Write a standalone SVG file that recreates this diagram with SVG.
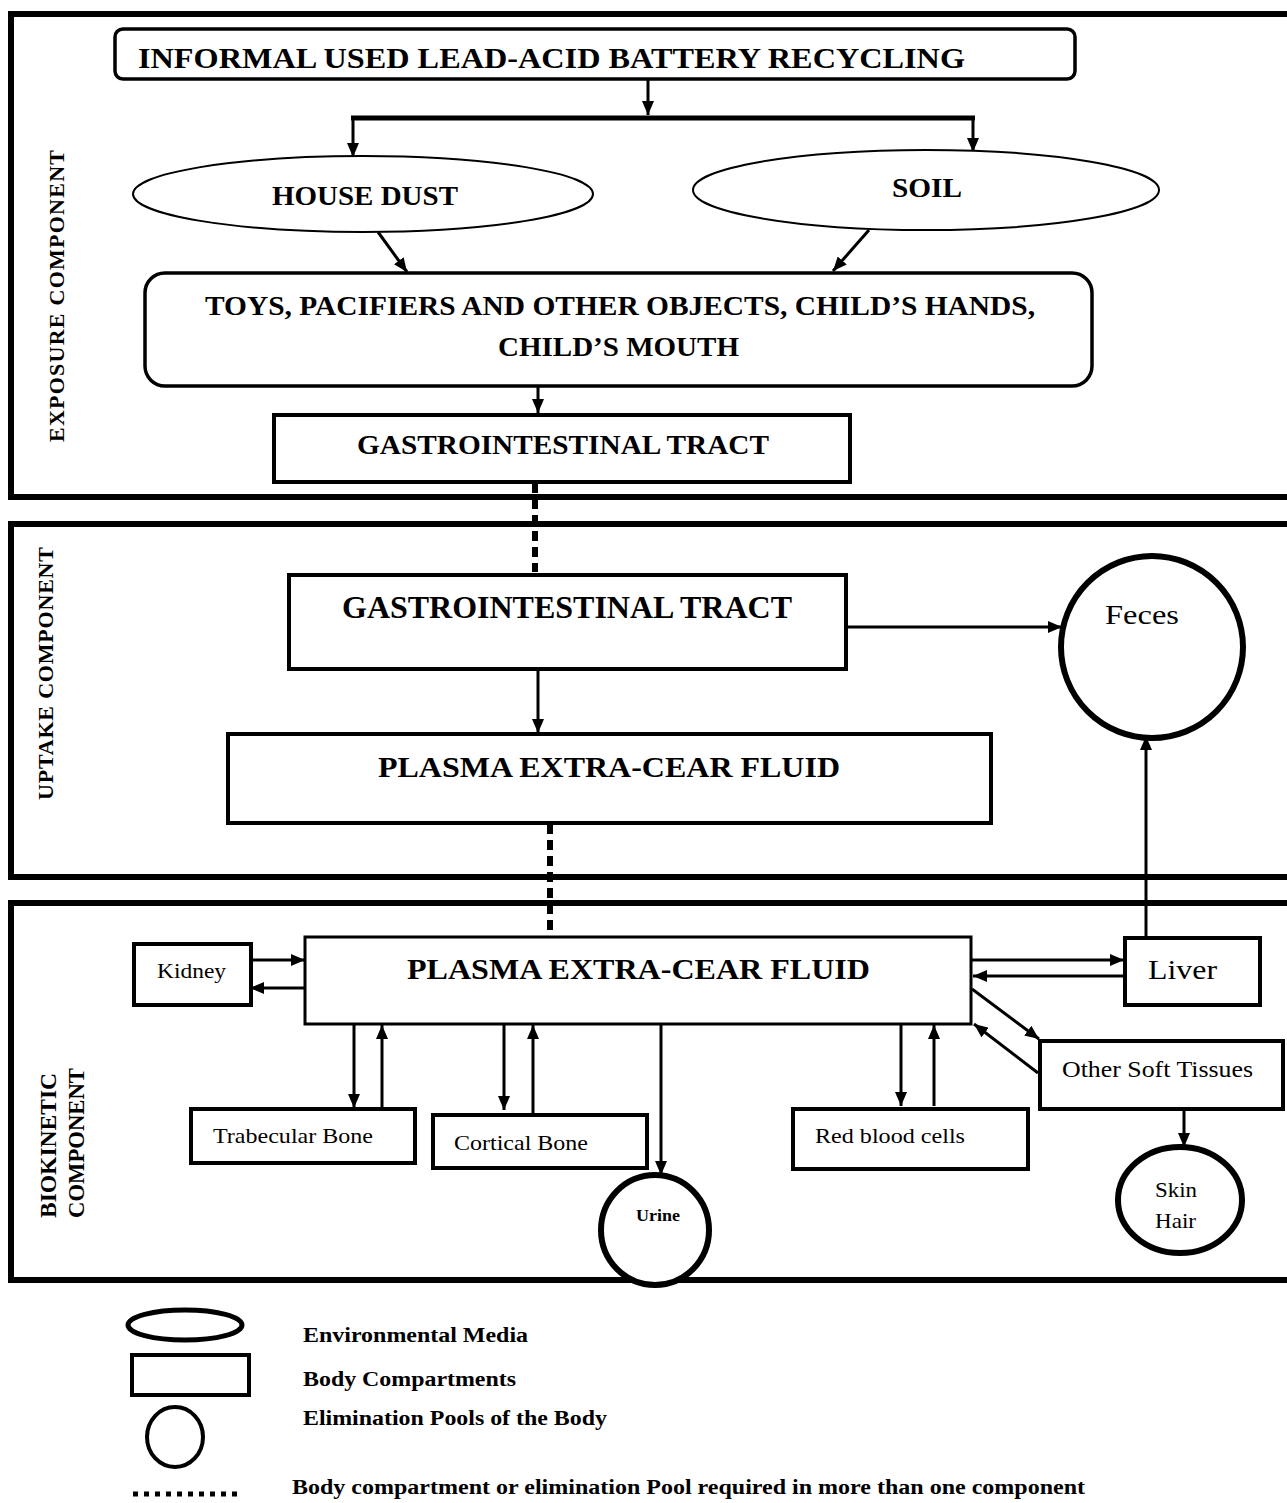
<svg xmlns="http://www.w3.org/2000/svg" width="1287" height="1503" viewBox="0 0 1287 1503">
<style>
.sec{fill:none;stroke:#000;stroke-width:6}
.box{fill:#fff;stroke:#000;stroke-width:4}
.ell{fill:#fff;stroke:#000;stroke-width:2}
.pool{fill:#fff;stroke:#000;stroke-width:6}
.b{font-family:"Liberation Serif","Times New Roman",serif;font-weight:bold;fill:#000}
.n{font-family:"Liberation Serif","Times New Roman",serif;fill:#000}
.con{fill:none;stroke:#000;stroke-width:3}
.dot{fill:none;stroke:#000;stroke-width:6;stroke-dasharray:10 6}
</style>
<defs>
<marker id="ah" viewBox="0 0 14 12" refX="14" refY="6" markerWidth="14" markerHeight="12" markerUnits="userSpaceOnUse" orient="auto">
<path d="M0,0 L14,6 L0,12 z" fill="#000"/>
</marker>
</defs>
<rect width="1287" height="1503" fill="#fff"/>

<!-- sections -->
<g id="sections">
<rect class="sec" x="11" y="14" width="1290" height="483"/>
<rect class="sec" x="11" y="524" width="1290" height="353"/>
<rect class="sec" x="11" y="903" width="1290" height="377"/>
<text class="b" font-size="22" transform="translate(64,442) rotate(-90)" textLength="292" lengthAdjust="spacing">EXPOSURE COMPONENT</text>
<text class="b" font-size="22" transform="translate(53,800) rotate(-90)" textLength="253" lengthAdjust="spacing">UPTAKE COMPONENT</text>
<text class="b" font-size="23" transform="translate(56,1218) rotate(-90)" textLength="145" lengthAdjust="spacingAndGlyphs">BIOKINETIC</text>
<text class="b" font-size="23" transform="translate(84,1218) rotate(-90)" textLength="150" lengthAdjust="spacingAndGlyphs">COMPONENT</text>
</g>

<!-- connectors -->
<g id="connectors">
<line class="con" x1="648" y1="80" x2="648" y2="115" marker-end="url(#ah)"/>
<line x1="351" y1="118" x2="975" y2="118" stroke="#000" stroke-width="5"/>
<line class="con" x1="353" y1="118" x2="353" y2="157" marker-end="url(#ah)"/>
<line class="con" x1="973" y1="118" x2="973" y2="152" marker-end="url(#ah)"/>
<line class="con" x1="378" y1="232" x2="407" y2="272" marker-end="url(#ah)" stroke-width="4"/>
<line class="con" x1="869" y1="230" x2="833" y2="271" marker-end="url(#ah)" stroke-width="4"/>
<line class="con" x1="538" y1="387" x2="538" y2="413" marker-end="url(#ah)"/>
<line class="dot" x1="535" y1="483" x2="535" y2="572"/>
<line class="con" x1="848" y1="627" x2="1062" y2="627" marker-end="url(#ah)" stroke-width="4"/>
<line class="con" x1="538" y1="670" x2="538" y2="733" marker-end="url(#ah)"/>
<line class="dot" x1="550" y1="824" x2="550" y2="937"/>
<line class="con" x1="1146" y1="936" x2="1146" y2="736" marker-end="url(#ah)"/>
<line class="con" x1="246" y1="960" x2="305" y2="960" marker-end="url(#ah)" stroke-width="4"/>
<line class="con" x1="305" y1="988" x2="250" y2="988" marker-end="url(#ah)" stroke-width="4"/>
<line class="con" x1="971" y1="960" x2="1124" y2="960" marker-end="url(#ah)" stroke-width="4"/>
<line class="con" x1="1124" y1="976" x2="973" y2="976" marker-end="url(#ah)" stroke-width="4"/>
<line class="con" x1="972" y1="989" x2="1039" y2="1039" marker-end="url(#ah)" stroke-width="4"/>
<line class="con" x1="1038" y1="1073" x2="974" y2="1024" marker-end="url(#ah)" stroke-width="4"/>
<line class="con" x1="354" y1="1025" x2="354" y2="1108" marker-end="url(#ah)"/>
<line class="con" x1="382" y1="1108" x2="382" y2="1025" marker-end="url(#ah)"/>
<line class="con" x1="504" y1="1025" x2="504" y2="1110" marker-end="url(#ah)"/>
<line class="con" x1="533" y1="1113" x2="533" y2="1025" marker-end="url(#ah)"/>
<line class="con" x1="661" y1="1025" x2="661" y2="1175" marker-end="url(#ah)"/>
<line class="con" x1="901" y1="1025" x2="901" y2="1106" marker-end="url(#ah)"/>
<line class="con" x1="934" y1="1106" x2="934" y2="1025" marker-end="url(#ah)"/>
<line class="con" x1="1184" y1="1111" x2="1184" y2="1147" marker-end="url(#ah)"/>
</g>

<!-- exposure nodes -->
<g id="n-recycling">
<rect x="115" y="29" width="960" height="50" rx="8" fill="#fff" stroke="#000" stroke-width="3.5"/>
<text class="b" x="138" y="68" font-size="30" textLength="827" lengthAdjust="spacingAndGlyphs">INFORMAL USED LEAD-ACID BATTERY RECYCLING</text>
</g>
<g id="n-housedust">
<ellipse class="ell" cx="363" cy="194" rx="230" ry="38"/>
<text class="b" x="272" y="205" font-size="27" textLength="186" lengthAdjust="spacingAndGlyphs">HOUSE DUST</text>
</g>
<g id="n-soil">
<ellipse class="ell" cx="926" cy="190" rx="233" ry="40"/>
<text class="b" x="892" y="197" font-size="27" textLength="70" lengthAdjust="spacingAndGlyphs">SOIL</text>
</g>
<g id="n-toys">
<rect x="145" y="273" width="947" height="113" rx="20" fill="#fff" stroke="#000" stroke-width="3.5"/>
<text class="b" x="205" y="315" font-size="28" textLength="830" lengthAdjust="spacingAndGlyphs">TOYS, PACIFIERS AND OTHER OBJECTS, CHILD’S HANDS,</text>
<text class="b" x="498" y="356" font-size="28" textLength="241" lengthAdjust="spacingAndGlyphs">CHILD’S MOUTH</text>
</g>
<g id="n-gi-exposure">
<rect class="box" x="274" y="415" width="576" height="67"/>
<text class="b" x="357" y="454" font-size="28" textLength="412" lengthAdjust="spacingAndGlyphs">GASTROINTESTINAL TRACT</text>
</g>

<!-- uptake nodes -->
<g id="n-gi-uptake">
<rect class="box" x="289" y="575" width="557" height="94"/>
<text class="b" x="342" y="618" font-size="31" textLength="450" lengthAdjust="spacingAndGlyphs">GASTROINTESTINAL TRACT</text>
</g>
<g id="n-feces">
<ellipse cx="1152" cy="647" rx="91" ry="91" fill="#fff" stroke="#000" stroke-width="6"/>
<text class="n" x="1105" y="624" font-size="27" textLength="74" lengthAdjust="spacingAndGlyphs">Feces</text>
</g>
<g id="n-plasma-uptake">
<rect class="box" x="228" y="734" width="763" height="89"/>
<text class="b" x="378" y="777" font-size="29" textLength="462" lengthAdjust="spacingAndGlyphs">PLASMA EXTRA-CEAR FLUID</text>
</g>

<!-- biokinetic nodes -->
<g id="n-plasma-bio">
<rect x="305" y="937" width="666" height="87" fill="#fff" stroke="#000" stroke-width="3"/>
<text class="b" x="407" y="979" font-size="29" textLength="463" lengthAdjust="spacingAndGlyphs">PLASMA EXTRA-CEAR FLUID</text>
</g>
<g id="n-kidney">
<rect class="box" x="134" y="944" width="117" height="61"/>
<text class="n" x="157" y="978" font-size="22" textLength="69" lengthAdjust="spacingAndGlyphs">Kidney</text>
</g>
<g id="n-liver">
<rect class="box" x="1125" y="938" width="135" height="67"/>
<text class="n" x="1148" y="979" font-size="28" textLength="69" lengthAdjust="spacingAndGlyphs">Liver</text>
</g>
<g id="n-ost">
<rect class="box" x="1040" y="1041" width="243" height="68"/>
<text class="n" x="1062" y="1077" font-size="23" textLength="191" lengthAdjust="spacingAndGlyphs">Other Soft Tissues</text>
</g>
<g id="n-trabecular">
<rect class="box" x="191" y="1109" width="224" height="54"/>
<text class="n" x="213" y="1143" font-size="22" textLength="160" lengthAdjust="spacingAndGlyphs">Trabecular Bone</text>
</g>
<g id="n-cortical">
<rect class="box" x="433" y="1115" width="214" height="53"/>
<text class="n" x="454" y="1150" font-size="22" textLength="134" lengthAdjust="spacingAndGlyphs">Cortical Bone</text>
</g>
<g id="n-rbc">
<rect class="box" x="793" y="1109" width="235" height="60"/>
<text class="n" x="815" y="1143" font-size="22" textLength="150" lengthAdjust="spacingAndGlyphs">Red blood cells</text>
</g>
<g id="n-urine">
<ellipse class="pool" cx="655" cy="1230" rx="54" ry="55"/>
<text class="b" x="636" y="1221" font-size="16" textLength="44" lengthAdjust="spacingAndGlyphs">Urine</text>
</g>
<g id="n-skinhair">
<ellipse class="pool" cx="1180" cy="1200" rx="62" ry="53"/>
<text class="n" x="1155" y="1197" font-size="22" textLength="42" lengthAdjust="spacingAndGlyphs">Skin</text>
<text class="n" x="1155" y="1228" font-size="22" textLength="41" lengthAdjust="spacingAndGlyphs">Hair</text>
</g>

<!-- legend -->
<g id="legend">
<ellipse cx="185" cy="1325" rx="57" ry="15" fill="none" stroke="#000" stroke-width="5"/>
<rect x="132" y="1355" width="117" height="40" fill="none" stroke="#000" stroke-width="4"/>
<ellipse cx="175" cy="1437" rx="28" ry="30" fill="none" stroke="#000" stroke-width="4"/>
<line x1="133" y1="1494" x2="243" y2="1494" stroke="#000" stroke-width="5" stroke-dasharray="5 6"/>
<text class="b" x="303" y="1342" font-size="20" textLength="225" lengthAdjust="spacingAndGlyphs">Environmental Media</text>
<text class="b" x="303" y="1386" font-size="20" textLength="213" lengthAdjust="spacingAndGlyphs">Body Compartments</text>
<text class="b" x="303" y="1425" font-size="20" textLength="304" lengthAdjust="spacingAndGlyphs">Elimination Pools of the Body</text>
<text class="b" x="292" y="1494" font-size="20" textLength="793" lengthAdjust="spacingAndGlyphs">Body compartment or elimination Pool required in more than one component</text>
</g>
</svg>
